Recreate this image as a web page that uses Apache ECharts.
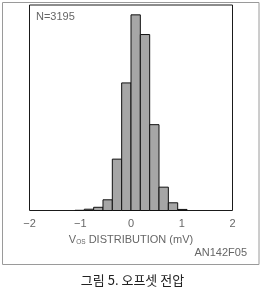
<!DOCTYPE html>
<html>
<head>
<meta charset="utf-8">
<script src="https://cdn.jsdelivr.net/npm/echarts@6/dist/echarts.min.js"></script>
<style>
html,body{margin:0;padding:0;background:#fff;}
#chart{width:265px;height:289px;}
</style>
</head>
<body>
<div id="chart"></div>
<script>
// Histogram bins (mV) and counts
const binStarts = [-1.104, -0.92, -0.736, -0.552, -0.368, -0.184, 0, 0.184, 0.368, 0.552, 0.736, 0.92];
const binEnds   = [-0.92, -0.736, -0.552, -0.368, -0.184, 0, 0.184, 0.368, 0.552, 0.736, 0.92, 1.104];
const counts    = [1, 6, 15, 50, 240, 596, 914, 822, 401, 109, 36, 5];
const xTicks = [-2, -1, 0, 1, 2];
const sampleLabel = 'N=3195';
const xAxisTitle = 'V_OS DISTRIBUTION (mV)';
const figId = 'AN142F05';
const caption = '그림 5. 오프셋 전압';

const data = binStarts.map((s, i) => [s, binEnds[i], counts[i]]);

const chart = echarts.init(document.getElementById('chart'), null, {renderer: 'canvas'});
const font = 'Liberation Sans, Arial, sans-serif';

chart.setOption({
  animation: false,
  grid: {left: 29.5, right: 32.5, top: 5, bottom: 78.5, show: true, borderColor: '#1a1a1a', borderWidth: 1, backgroundColor: 'transparent'},
  xAxis: {
    type: 'value', min: xTicks[0], max: xTicks[xTicks.length - 1], interval: 1,
    axisLine: {show: false}, axisTick: {show: false}, splitLine: {show: false},
    axisLabel: {color: '#666', fontSize: 11, fontFamily: font, margin: 8,
      formatter: v => (v < 0 ? '\u2212' + Math.abs(v) : String(v))},
    name: '{v|V}{s|OS}{t| DISTRIBUTION (mV)}',
    nameLocation: 'middle', nameGap: 23,
    nameTextStyle: {
      rich: {
        v: {fontSize: 11, color: '#666', fontFamily: font},
        s: {fontSize: 6.5, color: '#666', fontFamily: font, verticalAlign: 'bottom', padding: [5, 0, 0, 0]},
        t: {fontSize: 11, color: '#666', fontFamily: font}
      }
    }
  },
  yAxis: {
    type: 'value', min: 0, max: 960,
    axisLine: {show: false}, axisTick: {show: false}, splitLine: {show: false}, axisLabel: {show: false}
  },
  series: [{
    type: 'custom',
    data: data,
    encode: {x: [0, 1], y: 2},
    renderItem: function (params, api) {
      const p0 = api.coord([api.value(0), api.value(2)]);
      const p1 = api.coord([api.value(1), 0]);
      return {
        type: 'rect',
        shape: {x: p0[0], y: p0[1], width: p1[0] - p0[0], height: p1[1] - p0[1]},
        style: {fill: '#a6a6a6', stroke: '#111', lineWidth: 1}
      };
    }
  }],
  graphic: [
    {type: 'rect', shape: {x: 2.5, y: 2.5, width: 256.5, height: 262}, style: {fill: 'none', stroke: '#9a9a9a', lineWidth: 1}, z: 100},
    {type: 'text', left: 36, top: 11, style: {text: sampleLabel, fontSize: 11, fill: '#666', fontFamily: font}, z: 100},
    {type: 'text', right: 18, top: 247, style: {text: figId, fontSize: 11, fill: '#666', fontFamily: font}, z: 100},
    {type: 'text', left: 'center', top: 274, style: {text: caption, fontSize: 13, fill: '#222', fontFamily: 'Noto Sans CJK KR', fontWeight: 'normal'}, z: 100}
  ]
});
</script>
</body>
</html>
